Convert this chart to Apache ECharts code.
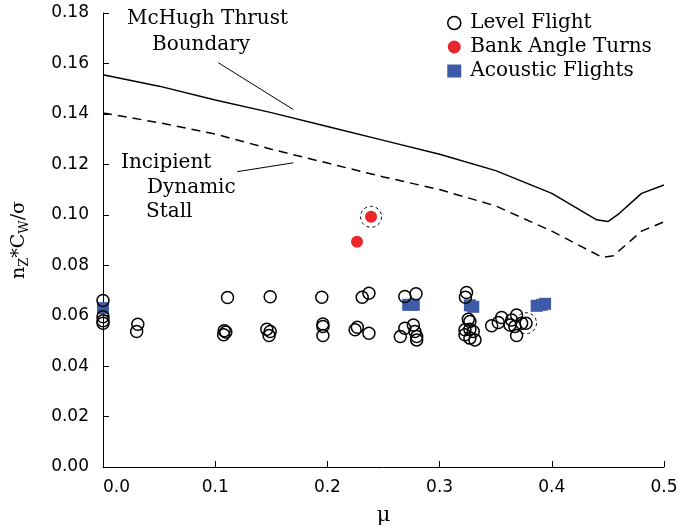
<!DOCTYPE html>
<html>
<head>
<meta charset="utf-8">
<script src="https://cdn.jsdelivr.net/npm/echarts@6/dist/echarts.min.js"></script>
<style>
  html, body { margin: 0; padding: 0; background: #fff; }
  #chart { width: 679px; height: 529px; }
</style>
</head>
<body>
<div id="chart"></div>
<script>
// Advance ratio (mu) and loading n_Z*C_W/sigma

// McHugh thrust boundary (solid)
var mchughMu  = [0, 0.05, 0.10, 0.15, 0.20, 0.25, 0.30, 0.35, 0.40, 0.44, 0.45, 0.46, 0.48, 0.50];
var mchughVal = [0.1555, 0.1510, 0.1455, 0.1405, 0.1350, 0.1295, 0.1240, 0.1175, 0.1085, 0.0980, 0.0973, 0.1005, 0.1085, 0.1118];

// Incipient dynamic stall (dashed)
var stallMu  = [0, 0.05, 0.10, 0.15, 0.20, 0.25, 0.30, 0.35, 0.40, 0.445, 0.455, 0.48, 0.50];
var stallVal = [0.1404, 0.1365, 0.1320, 0.1260, 0.1205, 0.1150, 0.1100, 0.1035, 0.0935, 0.0831, 0.0838, 0.0935, 0.0972];

// Level flight points
var levelMu = [
  0, 0, 0, 0,
  0.031, 0.030,
  0.111, 0.108, 0.1095, 0.1075,
  0.149, 0.146, 0.149, 0.148,
  0.195, 0.196, 0.196, 0.196,
  0.231, 0.237, 0.2247, 0.2267, 0.237,
  0.269, 0.279, 0.265, 0.269, 0.2766, 0.278, 0.2796, 0.2796,
  0.324, 0.323, 0.3256, 0.327, 0.3226, 0.327, 0.330, 0.3226, 0.327, 0.3315,
  0.3464, 0.3523, 0.3553, 0.3642, 0.3686, 0.3627, 0.3671, 0.3686, 0.3731, 0.377
];
var levelVal = [
  0.0660, 0.0596, 0.0580, 0.0570,
  0.0566, 0.0537,
  0.0672, 0.0540, 0.0535, 0.0524,
  0.0675, 0.0546, 0.0537, 0.0521,
  0.0673, 0.0567, 0.0557, 0.0521,
  0.0673, 0.0689, 0.0544, 0.0554, 0.0530,
  0.0676, 0.0687, 0.0517, 0.0550, 0.0563, 0.0537, 0.0517, 0.0504,
  0.0692, 0.0673, 0.0586, 0.0577, 0.0544, 0.0546, 0.0537, 0.0524, 0.0511, 0.0504,
  0.0560, 0.0573, 0.0593, 0.0583, 0.0603, 0.0563, 0.0557, 0.0521, 0.0570, 0.0570
];

// Bank angle turns
var bankMu  = [0.2264, 0.2389];
var bankVal = [0.0893, 0.0992];

// Acoustic flights
var acousticMu  = [0, 0.272, 0.277, 0.327, 0.330, 0.3865, 0.391, 0.394];
var acousticVal = [0.0630, 0.0643, 0.0643, 0.0641, 0.0635, 0.0639, 0.0643, 0.0647];

// Points singled out with a dashed ring
var ringMu  = [0.2389, 0.377];
var ringVal = [0.0992, 0.0570];

var xTicks = { min: 0, max: 0.5, interval: 0.1 };
var yTicks = { min: 0, max: 0.18, interval: 0.02 };

function pairs(a, b) { return a.map(function (v, i) { return [v, b[i]]; }); }

var SERIF = '"DejaVu Serif", serif';
var SANS = '"DejaVu Sans", sans-serif';

var chart = echarts.init(document.getElementById('chart'), null, { renderer: 'canvas' });

var option = {
  backgroundColor: '#fff',
  animation: false,
  grid: { left: 103, right: 15, top: 13, bottom: 62, containLabel: false, outerBoundsMode: 'none' },
  xAxis: {
    type: 'value', min: xTicks.min, max: xTicks.max, interval: xTicks.interval,
    name: 'μ', nameLocation: 'middle', nameGap: 38,
    nameTextStyle: { fontFamily: SERIF, fontSize: 21, color: '#000' },
    axisLine: { show: true, onZero: false, lineStyle: { color: '#000', width: 1 } },
    axisTick: { show: true, inside: true, length: 6, lineStyle: { color: '#000', width: 1 } },
    axisLabel: { fontFamily: SANS, fontSize: 17, color: '#000', margin: 12, alignMinLabel: 'left',
      formatter: function (v) { return v.toFixed(1); } },
    splitLine: { show: false }
  },
  yAxis: {
    type: 'value', min: yTicks.min, max: yTicks.max, interval: yTicks.interval,
    name: '{m|n}{s|Z}{m|*C}{s|W}{m|/σ}', nameLocation: 'middle', nameGap: 72,
    nameTextStyle: {
      fontFamily: SERIF, color: '#000',
      rich: {
        m: { fontFamily: SERIF, fontSize: 19, color: '#000', lineHeight: 24, verticalAlign: 'middle' },
        s: { fontFamily: SERIF, fontSize: 13, color: '#000', lineHeight: 14, verticalAlign: 'bottom' }
      }
    },
    axisLine: { show: true, onZero: false, lineStyle: { color: '#000', width: 1 } },
    axisTick: { show: true, inside: true, length: 6, lineStyle: { color: '#000', width: 1 } },
    axisLabel: { fontFamily: SANS, fontSize: 17, color: '#000', margin: 14,
      formatter: function (v) { return v.toFixed(2); } },
    splitLine: { show: false }
  },
  legend: {
    orient: 'vertical', left: 442, top: 8, itemWidth: 14, itemHeight: 13, itemGap: 4,
    textStyle: { fontFamily: SERIF, fontSize: 20, color: '#000', padding: [0, 0, 0, 4] },
    data: [
      { name: 'Level Flight', icon: 'circle', itemStyle: { color: '#fff', borderColor: '#000', borderWidth: 1.5 } },
      { name: 'Bank Angle Turns', icon: 'circle', itemStyle: { color: '#e8262b' } },
      { name: 'Acoustic Flights', icon: 'rect', itemStyle: { color: '#3d5ba6' } }
    ]
  },
  series: [
    {
      name: 'McHugh Thrust Boundary', type: 'line', data: pairs(mchughMu, mchughVal),
      showSymbol: false, symbol: 'none', smooth: false, z: 2,
      lineStyle: { color: '#000', width: 1.5 },
      markLine: {
        silent: true, symbol: 'none', label: { show: false },
        lineStyle: { color: '#000', width: 1, type: 'solid' },
        data: [[{ coord: [0.1027, 0.1603] }, { coord: [0.1697, 0.1417] }]]
      }
    },
    {
      name: 'Incipient Dynamic Stall', type: 'line', data: pairs(stallMu, stallVal),
      showSymbol: false, symbol: 'none', smooth: false, z: 2,
      lineStyle: { color: '#000', width: 1.5, type: [9, 6] },
      markLine: {
        silent: true, symbol: 'none', label: { show: false },
        lineStyle: { color: '#000', width: 1, type: 'solid' },
        data: [[{ coord: [0.1196, 0.1171] }, { coord: [0.1697, 0.1206] }]]
      }
    },
    {
      name: 'Acoustic Flights', type: 'scatter', data: pairs(acousticMu, acousticVal),
      symbol: 'rect', symbolSize: 12, clip: false, z: 3,
      itemStyle: { color: '#3d5ba6', opacity: 1 }
    },
    {
      name: 'Level Flight', type: 'scatter', data: pairs(levelMu, levelVal),
      symbol: 'circle', symbolSize: 12, clip: false, z: 4,
      itemStyle: { color: 'rgba(0,0,0,0)', borderColor: '#000', borderWidth: 1.5, opacity: 1 }
    },
    {
      name: 'Bank Angle Turns', type: 'scatter', data: pairs(bankMu, bankVal),
      symbol: 'circle', symbolSize: 12, clip: false, z: 4,
      itemStyle: { color: '#e8262b', opacity: 1 }
    },
    {
      name: 'ring', type: 'scatter', data: pairs(ringMu, ringVal),
      symbol: 'circle', symbolSize: 21, clip: false, z: 4, silent: true,
      itemStyle: { color: 'rgba(0,0,0,0)', borderColor: '#000', borderWidth: 1, borderType: [3, 3], opacity: 1 }
    }
  ],
  graphic: [
    { type: 'text', left: 127, top: 9, style: { text: 'McHugh Thrust', font: '20px ' + SERIF, fill: '#000' } },
    { type: 'text', left: 152, top: 35, style: { text: 'Boundary', font: '20px ' + SERIF, fill: '#000' } },
    { type: 'text', left: 121, top: 153, style: { text: 'Incipient', font: '20px ' + SERIF, fill: '#000' } },
    { type: 'text', left: 147, top: 178, style: { text: 'Dynamic', font: '20px ' + SERIF, fill: '#000' } },
    { type: 'text', left: 146, top: 202, style: { text: 'Stall', font: '20px ' + SERIF, fill: '#000' } }
  ]
};

chart.setOption(option);
</script>
</body>
</html>
